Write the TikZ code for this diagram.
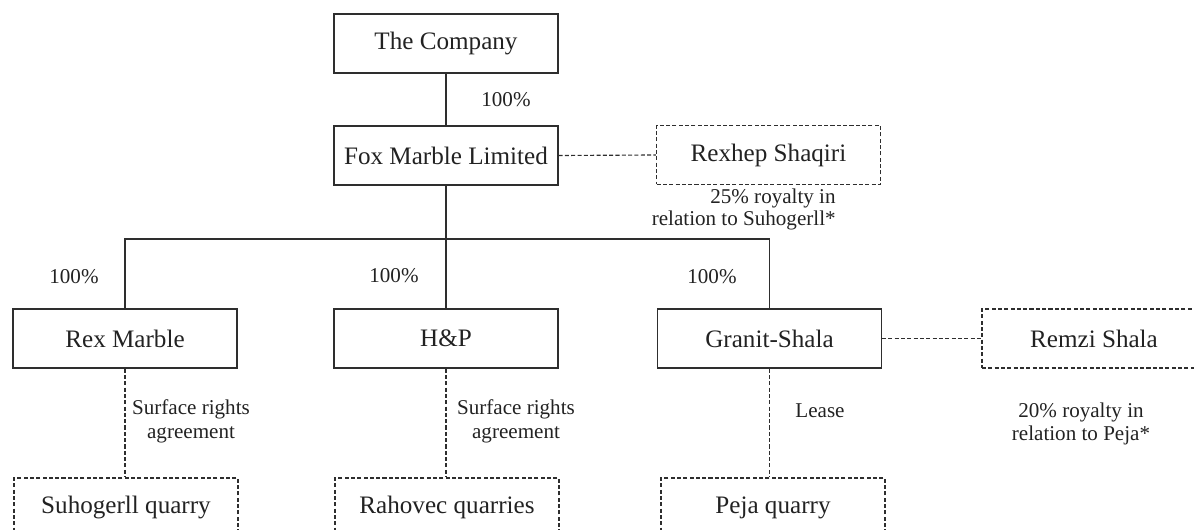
\documentclass[tikz,border=0pt]{standalone}
\usepackage{fontspec}
\setmainfont{Liberation Serif}
\usepackage{tikz}
\usetikzlibrary{positioning}

\definecolor{inkline}{HTML}{2E2E2E}
\definecolor{inktext}{HTML}{222222}

\tikzset{
  entity/.style={draw=inkline, line width=0.65pt, minimum width=4.48cm, minimum height=1.18cm,
    inner sep=0pt, text=inktext, font=\fontsize{14.3}{16}\selectfont},
  party/.style={entity, dash pattern=on 2.3pt off 1.3pt},
  share/.style={text=inktext, inner sep=0pt, align=center, font=\fontsize{12}{13.5}\selectfont},
  owns/.style={draw=inkline, line width=0.65pt},
  deal/.style={draw=inkline, line width=0.65pt, dash pattern=on 2.3pt off 1.3pt}
}

\begin{document}
\begin{tikzpicture}[x=0.02cm, y=-0.02cm]
% page frame
\clip (0,0) rectangle (1194,530);

% group companies
\node[entity] (company) at (446, 43.5) {The Company};
\node[entity] (fox) at (446, 155.5) {Fox Marble Limited};
\node[party] (rexhep) at (768.5, 155) {Rexhep Shaqiri};

\node[entity] (rex) at (125, 338.5) {Rex Marble};
\node[entity] (hp) at (446, 338.5) {H\&P};
\node[entity] (granit) at (769.5, 338.5) {Granit-Shala};
\node[party] (remzi) at (1094, 338.5) {Remzi Shala};

% quarries
\node[party] (suho) at (126, 507.5) {Suhogerll quarry};
\node[party] (rahovec) at (447, 507.5) {Rahovec quarries};
\node[party] (peja) at (773, 507.5) {Peja quarry};

% ownership lines
\coordinate (bus) at (446, 239);
\draw[owns] (company.south) -- (fox.north);
\draw[owns] (fox.south) -- (hp.north);
\draw[owns] (rex.north) |- (bus) -| (granit.north);

% agreements
\draw[deal] (fox.east) -- (rexhep.west);
\draw[deal] (granit.east) -- (remzi.west);
\draw[deal] (rex.south) -- (rex.south |- suho.north);
\draw[deal] (hp.south) -- (hp.south |- rahovec.north);
\draw[deal] (granit.south) -- (granit.south |- peja.north);

% labels
\node[share] (pcfox) at (506, 100) {100\%};
\node[share] (pcrex) at (74, 277) {100\%};
\node[share] (pchp) at (394, 276) {100\%};
\node[share] (pcgranit) at (712, 277) {100\%};
\node[share, align=right, anchor=east, font=\fontsize{12}{12.5}\selectfont] (royrexhep) at (836, 209) {25\% royalty in\\relation to Suhogerll*};
\node[share] (srarex) at (191, 421) {Surface rights\\agreement};
\node[share] (srahp) at (516, 421) {Surface rights\\agreement};
\node[share] (lease) at (820, 411) {Lease};
\node[share] (royremzi) at (1081, 424) {20\% royalty in\\relation to Peja*};

\end{tikzpicture}
\end{document}
